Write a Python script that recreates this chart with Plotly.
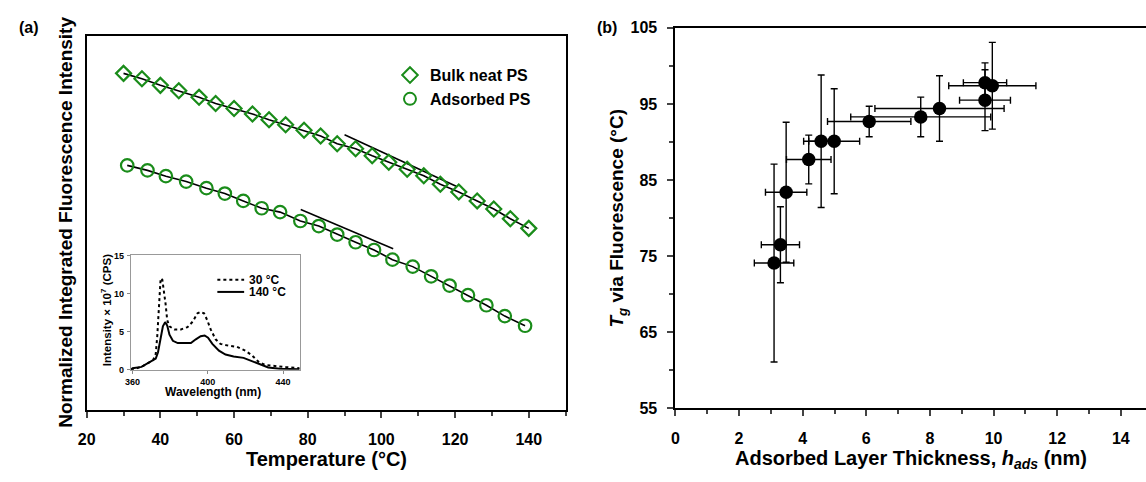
import plotly.graph_objects as go

W, H = 1146, 482

# (a) normalized integrated fluorescence intensity vs temperature (y axis has no scale in the original)
bulk_T = [30, 35, 40, 45, 50.5, 55, 60, 65, 69.5, 74, 79, 83.5, 88, 93, 97.5, 102, 107, 111.5, 116, 121, 126, 130.5, 135, 140]
bulk_I = [0.904, 0.890, 0.873, 0.859, 0.842, 0.826, 0.813, 0.799, 0.784, 0.771, 0.757, 0.742, 0.722, 0.709,
          0.691, 0.674, 0.656, 0.639, 0.617, 0.597, 0.574, 0.553, 0.528, 0.503]
ads_T = [31, 36.5, 41.5, 47, 52.5, 57.5, 62.5, 67.5, 72.5, 78, 83, 88, 93, 98, 103, 108.5, 113.5, 118.5,
         123.5, 128.5, 133.5, 139]
ads_I = [0.666, 0.653, 0.638, 0.624, 0.607, 0.593, 0.574, 0.555, 0.545, 0.522, 0.509, 0.487, 0.467, 0.447,
         0.422, 0.404, 0.379, 0.355, 0.330, 0.304, 0.276, 0.251]
# short tangent lines near Tg
bulk_tan_T = [90.0, 120.3]
bulk_tan_I = [0.745, 0.612]
ads_tan_T = [78.1, 103.2]
ads_tan_I = [0.552, 0.450]

# inset: emission spectra
wl_30 = [359.1, 364.7, 370.9, 372.3, 373.1, 374.0, 374.9, 375.8, 376.6, 377.5, 378.4, 379.6, 382.2, 385.7,
         389.2, 391.9, 394.5, 396.2, 398.0, 399.7, 401.5, 404.1, 406.7, 410.2, 415.5, 419.9, 423.4, 426.9,
         430.4, 434.7, 441.7, 448.7]
int_30 = [0.0, 0.38, 1.27, 2.1, 4.4, 8.7, 12.0, 11.8, 10.4, 8.7, 6.5, 5.7, 5.3, 5.3, 5.6, 6.3, 7.4, 7.6, 7.4,
          6.5, 5.3, 4.0, 3.4, 3.2, 3.0, 2.5, 1.9, 1.06, 0.63, 0.5, 0.34, 0.2]
wl_140 = [359.1, 360.0, 364.7, 368.2, 370.9, 372.3, 373.5, 374.9, 376.1, 377.3, 378.4, 379.6, 381.4, 384.0,
          387.5, 391.0, 393.6, 396.2, 398.3, 400.1, 402.4, 405.9, 409.4, 413.7, 419.0, 423.4, 427.7, 432.1,
          438.2, 448.7]
int_140 = [0.0, 0.2, 0.38, 0.85, 1.27, 1.48, 2.3, 4.4, 5.7, 6.25, 5.8, 4.6, 3.8, 3.5, 3.5, 3.5, 4.0, 4.4, 4.5,
           4.2, 3.4, 2.5, 2.0, 1.73, 1.56, 1.14, 0.63, 0.3, 0.13, 0.08]

# (b) Tg vs adsorbed layer thickness
h_ads = [3.10, 3.30, 3.48, 4.19, 4.58, 4.99, 6.09, 7.71, 8.30, 9.73, 9.73, 9.96]
h_err = [0.62, 0.60, 0.65, 0.70, 0.55, 0.80, 1.31, 2.20, 2.03, 0.80, 0.68, 1.37]
tg = [74.1, 76.5, 83.4, 87.7, 90.1, 90.1, 92.7, 93.3, 94.4, 95.5, 97.8, 97.4]
tg_err = [13.0, 5.0, 9.2, 3.2, 8.7, 6.9, 2.0, 2.6, 4.3, 4.0, 2.6, 5.7]

GREEN = "#1a8c1a"
FONT = "Arial, Liberation Sans, sans-serif"


def px_x(p):
    return p / W


def px_y(p):
    return 1 - p / H


fig = go.Figure()

# fit lines behind the markers
for xs, ys in [(bulk_T, bulk_I), (ads_T, ads_I), (bulk_tan_T, bulk_tan_I), (ads_tan_T, ads_tan_I)]:
    fig.add_trace(go.Scatter(x=xs, y=ys, mode="lines", line=dict(color="black", width=1.6),
                             showlegend=False, xaxis="x", yaxis="y"))
fig.add_trace(go.Scatter(x=bulk_T, y=bulk_I, mode="markers", name="Bulk neat PS",
                         marker=dict(symbol="diamond-open", size=11.5, color=GREEN, line=dict(width=2.2, color=GREEN)),
                         xaxis="x", yaxis="y"))
fig.add_trace(go.Scatter(x=ads_T, y=ads_I, mode="markers", name="Adsorbed PS",
                         marker=dict(symbol="circle-open", size=12.5, color=GREEN, line=dict(width=2.2, color=GREEN)),
                         xaxis="x", yaxis="y"))

# inset spectra
fig.add_trace(go.Scatter(x=wl_30, y=int_30, mode="lines", line=dict(color="black", width=2, dash="dot"),
                         showlegend=False, xaxis="x3", yaxis="y3"))
fig.add_trace(go.Scatter(x=wl_140, y=int_140, mode="lines", line=dict(color="black", width=2),
                         showlegend=False, xaxis="x3", yaxis="y3"))

# panel b
fig.add_trace(go.Scatter(x=h_ads, y=tg, mode="markers", showlegend=False,
                         marker=dict(size=13.5, color="black"),
                         error_x=dict(type="data", array=h_err, color="black", thickness=1.4, width=3.5),
                         error_y=dict(type="data", array=tg_err, color="black", thickness=1.4, width=3.5),
                         xaxis="x2", yaxis="y2"))

tickfont = dict(family=FONT, size=16, color="black", weight="bold")
insetfont = dict(family=FONT, size=9, color="black", weight="bold")

fig.update_layout(
    width=W, height=H,
    margin=dict(l=0, r=0, t=0, b=0),
    paper_bgcolor="white", plot_bgcolor="white",
    font=dict(family=FONT, color="black"),
    xaxis=dict(domain=[px_x(78.3), px_x(561)], range=[20, 150], tickvals=[20, 40, 60, 80, 100, 120, 140],
               ticks="outside", ticklen=6, tickwidth=2, showline=True, linewidth=2, linecolor="black",
               mirror=True, showgrid=False, zeroline=False, tickfont=tickfont, ticklabelstandoff=8,
               minor=dict(tickvals=[30, 50, 70, 90, 110, 130, 150], ticks="outside", ticklen=4, tickwidth=2),
               anchor="y"),
    yaxis=dict(domain=[px_y(416.7), px_y(29.3)], range=[0.033, 1.0], showticklabels=False, ticks="",
               showline=True, linewidth=2, linecolor="black", mirror=True, showgrid=False, zeroline=False,
               anchor="x"),
    xaxis2=dict(domain=[px_x(671.7), 1.0], range=[0, 14.79], tickvals=[0, 2, 4, 6, 8, 10, 12, 14],
                ticks="outside", ticklen=6, tickwidth=2, showline=True, linewidth=2, linecolor="black",
                mirror=True, showgrid=False, zeroline=False, tickfont=tickfont, ticklabelstandoff=8,
                minor=dict(tickvals=[1, 3, 5, 7, 9, 11, 13], ticks="outside", ticklen=4, tickwidth=2),
                anchor="y2"),
    yaxis2=dict(domain=[px_y(415), px_y(20.6)], range=[55, 105], tickvals=[55, 65, 75, 85, 95, 105],
                ticks="outside", ticklen=6, tickwidth=2, showline=True, linewidth=2, linecolor="black",
                showgrid=False, zeroline=False, tickfont=tickfont, ticklabelstandoff=7,
                minor=dict(tickvals=[60, 70, 80, 90, 100], ticks="outside", ticklen=4, tickwidth=2),
                anchor="x2"),
    xaxis3=dict(domain=[px_x(122.7), px_x(293.3)], range=[359, 449], tickvals=[360, 400, 440],
                ticks="outside", ticklen=3, tickwidth=1, tickcolor="#888", showline=True, linewidth=1,
                linecolor="#999", mirror=True, showgrid=False, zeroline=False, tickfont=insetfont,
                ticklabelstandoff=0, anchor="y3"),
    yaxis3=dict(domain=[px_y(375), px_y(255.7)], range=[0, 15.1], tickvals=[0, 5, 10, 15],
                ticks="outside", ticklen=3, tickwidth=1, tickcolor="#888", showline=True, linewidth=1,
                linecolor="#999", mirror=True, showgrid=False, zeroline=False, tickfont=insetfont,
                ticklabelstandoff=1, anchor="x3"),
    legend=dict(x=px_x(384), y=px_y(52), xanchor="left", yanchor="top", bgcolor="rgba(0,0,0,0)",
                font=dict(family=FONT, size=16, color="black", weight="bold"), itemsizing="constant",
                tracegroupgap=0),
)

annotations = [
    dict(text="(a)", x=px_x(20), y=px_y(20), size=16),
    dict(text="(b)", x=px_x(603), y=px_y(20), size=16),
    dict(text="Normalized Integrated Fluorescence Intensity", x=px_x(57), y=px_y(222), size=19, angle=-90),
    dict(text="Temperature (°C)", x=px_x(320), y=px_y(468), size=20),
    dict(text="<i>T</i><sub><i>g</i></sub> via Fluorescence (°C)", x=px_x(614), y=px_y(218), size=19, angle=-90),
    dict(text="Adsorbed Layer Thickness, <i>h</i><sub><i>ads</i></sub> (nm)", x=px_x(909), y=px_y(468), size=20),
    dict(text="Wavelength (nm)", x=px_x(206), y=px_y(398), size=12),
    dict(text="Intensity × 10<sup>7</sup> (CPS)", x=px_x(98), y=px_y(313), size=11.5, angle=-90),
]
for a in annotations:
    fig.add_annotation(text=a["text"], x=a["x"], y=a["y"], xref="paper", yref="paper", showarrow=False,
                       xanchor="center", yanchor="middle", textangle=a.get("angle", 0),
                       font=dict(family=FONT, size=a["size"], color="black", weight="bold"))

# inset legend
for label, yy, dash in [("30 °C", 281.7, "dot"), ("140 °C", 294.3, "solid")]:
    fig.add_shape(type="line", xref="paper", yref="paper", x0=px_x(210), x1=px_x(237), y0=px_y(yy), y1=px_y(yy),
                  line=dict(color="black", width=2, dash=dash))
    fig.add_annotation(text=label, x=px_x(240), y=px_y(yy), xref="paper", yref="paper", showarrow=False,
                       xanchor="left", yanchor="middle",
                       font=dict(family=FONT, size=12, color="black", weight="bold"))

# the page body has a default 8px margin; drop it so the figure sits at the window origin
fig.write_html("out.html", config={"displayModeBar": False},
               post_script="document.body.style.margin='0px';")
